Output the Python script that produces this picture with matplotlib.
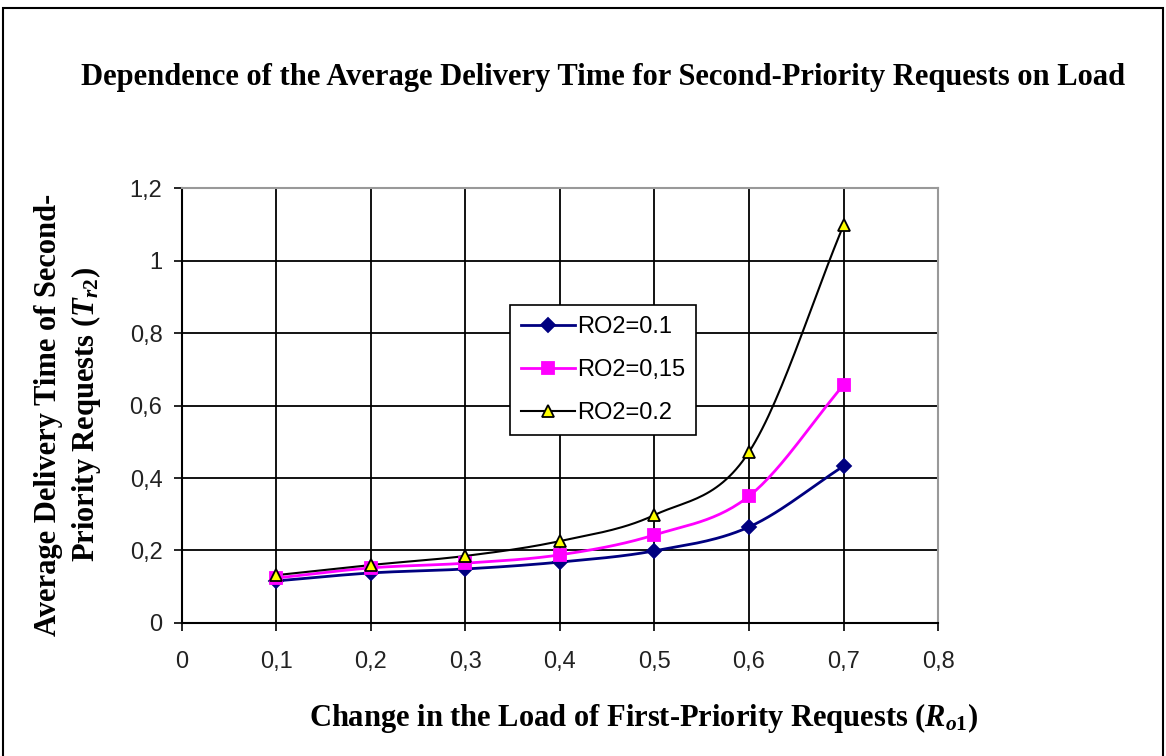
import numpy as np
import matplotlib.pyplot as plt
from matplotlib.patches import Rectangle

plt.rcParams['font.family'] = 'Liberation Sans'
plt.rcParams['mathtext.fontset'] = 'custom'
plt.rcParams['mathtext.it'] = 'Liberation Serif:italic:bold'
plt.rcParams['mathtext.rm'] = 'Liberation Serif:bold'

load = [0.1, 0.2, 0.3, 0.4, 0.5, 0.6, 0.7]
ro2_010 = [0.116, 0.138, 0.149, 0.168, 0.199, 0.265, 0.433]
ro2_015 = [0.124, 0.152, 0.165, 0.188, 0.243, 0.350, 0.657]
ro2_020 = [0.132, 0.160, 0.185, 0.226, 0.298, 0.472, 1.098]
labels = ['RO2=0.1', 'RO2=0,15', 'RO2=0.2']


def smooth(x, y, n=30):
    # catmull-rom curve through the points, like excel's smoothed line
    x = np.asarray(x, float)
    y = np.asarray(y, float)
    px = np.concatenate([[2 * x[0] - x[1]], x, [2 * x[-1] - x[-2]]])
    py = np.concatenate([[2 * y[0] - y[1]], y, [2 * y[-1] - y[-2]]])
    xs, ys = [], []
    t = np.linspace(0, 1, n)
    for i in range(1, len(px) - 2):
        for p, out in ((px, xs), (py, ys)):
            p0, p1, p2, p3 = p[i - 1], p[i], p[i + 1], p[i + 2]
            out.extend(0.5 * ((2 * p1) + (-p0 + p2) * t
                              + (2 * p0 - 5 * p1 + 4 * p2 - p3) * t ** 2
                              + (-p0 + 3 * p1 - 3 * p2 + p3) * t ** 3))
    return xs, ys


fig = plt.figure(figsize=(11.66, 7.56), dpi=100)
ax = fig.add_axes([0.156, 0.176, 0.6485, 0.575])

styles = [
    dict(color='#000080', marker='D', ms=7, mfc='#000080', mec='#000080', lw=2),
    dict(color='#FF00FF', marker='s', ms=9, mfc='#FF00FF', mec='#FF00FF', lw=2),
    dict(color='black', marker='^', ms=9, mfc='#FFFF00', mec='black', lw=1.5),
]
for yv, lab, st in zip([ro2_010, ro2_015, ro2_020], labels, styles):
    sx, sy = smooth(load, yv)
    ax.plot(sx, sy, color=st['color'], lw=st['lw'], zorder=3)
    ax.plot(load, yv, ls='none', marker=st['marker'], ms=st['ms'],
            mfc=st['mfc'], mec=st['mec'], mew=1.3, zorder=4)
    ax.plot([], [], color=st['color'], lw=st['lw'], marker=st['marker'],
            ms=st['ms'], mfc=st['mfc'], mec=st['mec'], mew=1.3, label=lab)

ax.set_xlim(0, 0.8)
ax.set_ylim(0, 1.2)
xt = np.arange(0, 0.81, 0.1)
yt = np.arange(0, 1.21, 0.2)
ax.set_xticks(xt)
ax.set_yticks(yt)
ax.set_xticklabels(['0', '0,1', '0,2', '0,3', '0,4', '0,5', '0,6', '0,7', '0,8'])
ax.set_yticklabels(['0', '0,2', '0,4', '0,6', '0,8', '1', '1,2'])
ax.tick_params(labelsize=17, length=6, width=1.2, color='black', labelcolor='#222222')
ax.tick_params(axis='x', pad=14)
ax.tick_params(axis='y', pad=8)
ax.grid(True, color='black', lw=1.3)
for s in ['left', 'bottom']:
    ax.spines[s].set_color('black')
    ax.spines[s].set_linewidth(1.5)
for s in ['top', 'right']:
    ax.spines[s].set_color('#999999')
    ax.spines[s].set_linewidth(1.5)

leg = ax.legend(loc='upper left', bbox_to_anchor=(0.434, 0.731), fontsize=17,
                fancybox=False, framealpha=1, edgecolor='black',
                handlelength=2.3, handletextpad=0.1, borderpad=0.45,
                labelspacing=0.9, borderaxespad=0)
leg.get_frame().set_linewidth(1.2)

fig.text(0.517, 0.898, 'Dependence of the Average Delivery Time for Second-Priority Requests on Load',
         ha='center', va='center', family='Liberation Serif', weight='bold', fontsize=22)
fig.text(0.059, 0.451, 'Average Delivery Time of Second-\nPriority Requests ($T_{\\mathit{r2}}$)',
         ha='center', va='center', rotation=90, family='Liberation Serif',
         weight='bold', fontsize=22, linespacing=1.25)
fig.text(0.552, 0.05, 'Change in the Load of First-Priority Requests ($R_{\\mathit{o1}}$)',
         ha='center', va='center', family='Liberation Serif', weight='bold', fontsize=22)

fig.patches.append(Rectangle((0.003, -0.01), 0.994, 1.0, transform=fig.transFigure,
                             fill=False, edgecolor='black', lw=1.5))

fig.savefig('out.png', dpi=100)
